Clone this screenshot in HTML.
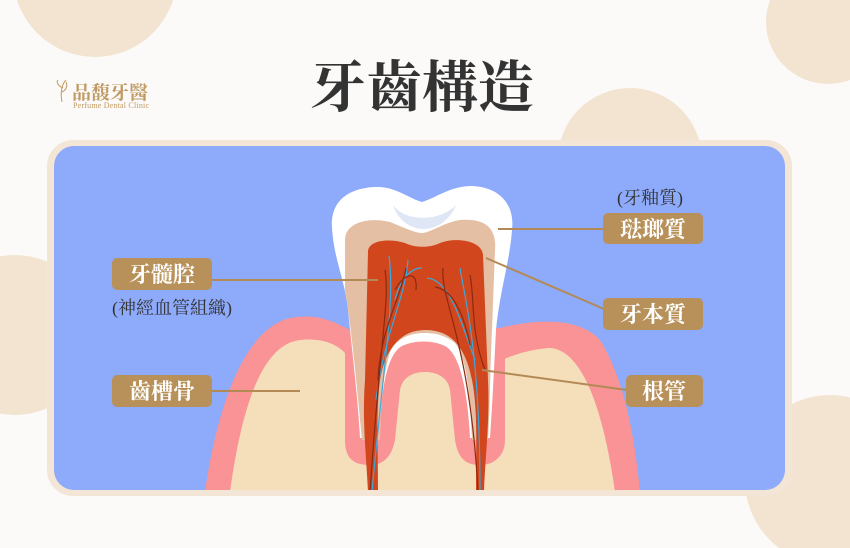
<!DOCTYPE html>
<html><head><meta charset="utf-8"><style>
html,body{margin:0;padding:0;background:#fbfaf8;}
svg{display:block}
</style></head><body>
<svg width="850" height="548" viewBox="0 0 850 548" xmlns="http://www.w3.org/2000/svg">
<rect width="850" height="548" fill="#fbfaf8"/>
<g fill="#f3e4d2">
<circle cx="95" cy="-25" r="82"/>
<circle cx="828" cy="22" r="62"/>
<circle cx="630" cy="160" r="72"/>
<circle cx="15" cy="335" r="80"/>
<circle cx="830" cy="480" r="85"/>
</g>
<rect x="47" y="140" width="745" height="356" rx="26" fill="#f3e6d6"/>
<rect x="54" y="146" width="731" height="344" rx="20" fill="#8eaafb"/>
<defs><clipPath id="c"><rect x="54" y="146" width="731" height="344" rx="20"/></clipPath></defs>
<g clip-path="url(#c)">
<path d="M205,492 C215,420 240,330 290,318 C320,312 340,325 350,330 L500,328 C540,318 580,318 600,340 C625,380 635,440 640,492 Z" fill="#f99396"/>
<path d="M230,492 C240,420 258,345 300,340 C330,337 345,350 350,360 L500,360 C505,360 520,350 550,348 C585,350 605,420 615,492 Z" fill="#f5dfbb"/>
<path d="M345,340 L345,440 C345,460 355,465 370,465 C385,465 392,455 395,440 L400,390 C402,378 412,372 425,372 C438,372 448,378 450,390 L455,440 C458,458 465,465 480,465 C495,465 505,455 505,440 L505,340 Z" fill="#f99396"/>
<path d="M332,228 C330,200 350,188 375,187 C395,186 408,198 422,202 C436,198 450,186 472,186 C500,187 515,205 512,230 C510,260 500,290 496,330 C494,370 492,410 490,438 L470,438 C468,400 462,355 445,346 C432,340 415,340 402,346 C385,355 380,400 380,438 L360,438 C358,400 352,350 348,310 C345,280 334,260 332,228 Z" fill="#fff"/>
<path d="M393,205 C405,222 440,222 456,205 C450,220 437,229 424,229 C410,229 398,220 393,205 Z" fill="#dfe6f6"/>
<path d="M345,240 C345,222 370,217 390,222 C405,228 415,233 422,233 C430,233 445,222 460,220 C485,218 497,228 495,250 L492,330 C490,370 490,410 488,440 L472,440 C470,400 468,360 455,343 C445,335 435,333 425,333 C410,333 397,338 390,352 C382,380 380,410 380,440 L362,440 C358,400 352,330 345,290 Z" fill="#e4bfa4"/>
<path d="M368,252 C368,240 390,238 405,243 C415,248 430,248 440,243 C455,237 482,240 483,255 L488,380 C490,420 485,460 484,492 L476,492 C476,450 478,410 472,380 C465,345 450,330 425,330 C400,330 385,350 380,380 C376,410 378,450 378,492 L368,492 C366,450 362,420 365,380 Z" fill="#d2461d"/>
<g fill="none" stroke-width="1.2">
<path d="M389,256 C395,300 385,350 372,492" stroke="#3aa8dc"/>
<path d="M408,260 C405,300 385,330 376,400" stroke="#3aa8dc"/>
<path d="M422,268 C410,268 400,280 395,300" stroke="#3aa8dc"/>
<path d="M460,268 C465,300 480,350 480,492" stroke="#3aa8dc"/>
<path d="M427,278 C450,280 460,320 475,360" stroke="#3aa8dc"/>
<path d="M385,270 C390,300 380,340 370,492" stroke="#8a2a12"/>
<path d="M406,268 C400,300 380,330 378,380" stroke="#8a2a12"/>
<path d="M416,290 C418,270 405,272 395,290" stroke="#8a2a12"/>
<path d="M443,268 C440,300 470,340 478,492" stroke="#8a2a12"/>
<path d="M470,275 C475,300 470,330 485,370" stroke="#8a2a12"/>
<path d="M435,287 C455,290 465,320 470,345" stroke="#8a2a12"/>
</g>
</g>
<g stroke="#b38a55" stroke-width="2" fill="none">
<line x1="498" y1="229" x2="604" y2="229"/>
<line x1="486" y1="258" x2="604" y2="309"/>
<line x1="482" y1="370" x2="627" y2="390"/>
<line x1="211" y1="280" x2="378" y2="280"/>
<line x1="211" y1="391" x2="300" y2="391"/>
</g>
<g fill="#b8915a">
<rect x="603" y="213" width="100" height="31" rx="5"/>
<rect x="603" y="298" width="100" height="32" rx="5"/>
<rect x="626" y="375" width="77" height="32" rx="5"/>
<rect x="112" y="258" width="100" height="32" rx="5"/>
<rect x="112" y="375" width="100" height="32" rx="5"/>
</g>
<g font-family="'Liberation Serif','Noto Serif CJK SC',serif" font-weight="bold" font-size="22" fill="#fff" text-anchor="middle">
<text x="653" y="237">琺瑯質</text>
<text x="653" y="322">牙本質</text>
<text x="664" y="399">根管</text>
<text x="162" y="282">牙髓腔</text>
<text x="162" y="399">齒槽骨</text>
</g>
<g font-family="'Liberation Serif','Noto Serif CJK SC',serif" font-size="18" fill="#333">
<text x="650" y="204" text-anchor="middle">(牙釉質)</text>
<text x="112" y="314">(神經血管組織)</text>
</g>
<text x="422" y="107" text-anchor="middle" font-family="'Liberation Serif','Noto Serif CJK SC',serif" font-weight="bold" font-size="56" fill="#333">牙齒構造</text>
<g fill="#c09a62">
<path d="M62,102 C60,92 62,84 66,80 M62,92 C66,90 68,86 66,82 M63,88 C58,86 56,82 58,80" stroke="#c09a62" stroke-width="1" fill="none"/>
<text x="72" y="99" font-family="'Liberation Serif','Noto Serif CJK SC',serif" font-weight="bold" font-size="19">品馥牙醫</text>
<text x="73" y="108" font-family="'Liberation Serif',serif" font-size="8" textLength="76">Perfume Dental Clinic</text>
</g>
</svg>
</body></html>
